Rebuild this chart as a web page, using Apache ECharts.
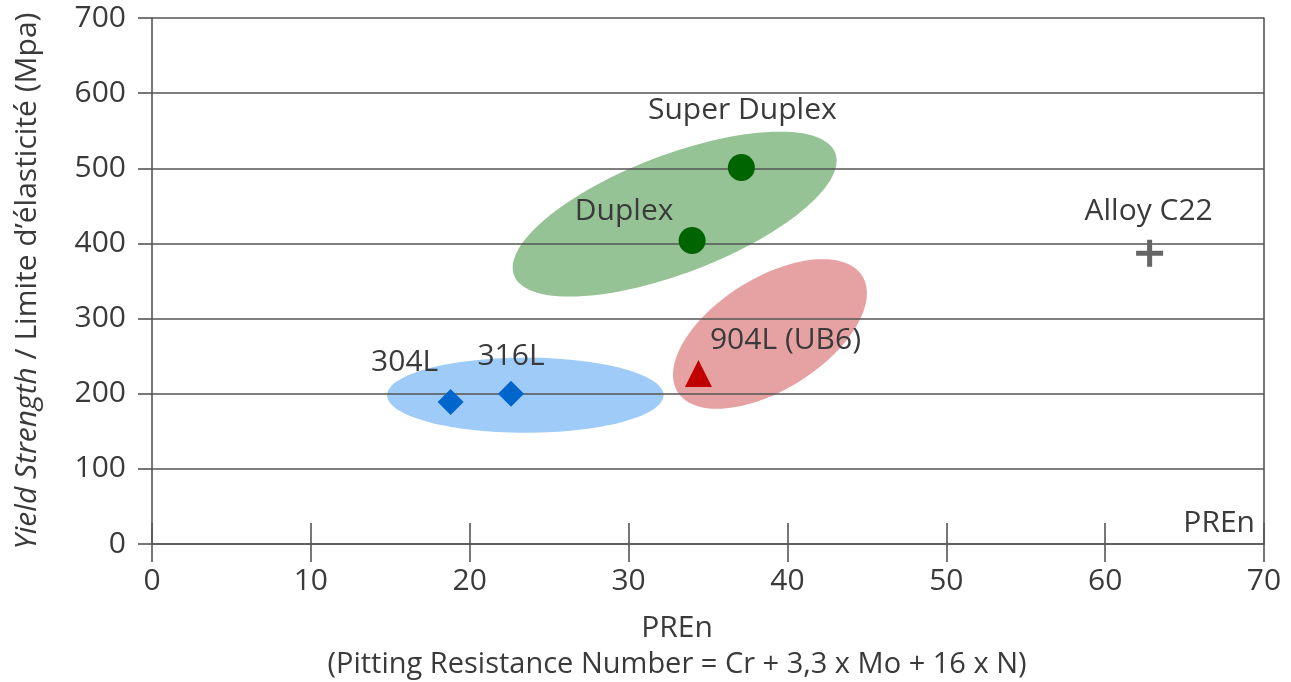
<!DOCTYPE html>
<html>
<head>
<meta charset="utf-8">
<script src="https://cdn.jsdelivr.net/npm/echarts@6/dist/echarts.min.js"></script>
<style>
html,body{margin:0;padding:0;background:#fff;}
#chart{width:1291px;height:682px;}
</style>
</head>
<body>
<div id="chart"></div>
<script>
// ---- data ----
var alloyNames = ['304L', '316L', '904L (UB6)', 'Duplex', 'Super Duplex', 'Alloy C22'];
var alloyPren  = [18.8, 22.6, 34.4, 34.0, 37.1, 62.8];
var alloyYield = [189, 200, 227, 404, 501, 387];

// ellipses: centre, end of first semi-axis, end of second semi-axis (data units)
var ellipseNames = ['Austenitic', 'Duplex family', 'Super austenitic'];
var ellipseCx = [23.5, 32.9, 38.9];
var ellipseCy = [198, 439, 279.5];
var ellipseAx = [32.2, 43.0, 44.7];
var ellipseAy = [198, 521, 357];
var ellipseBx = [23.5, 34.3, 40.8];
var ellipseBy = [248, 366, 217];

var xTicks = [0, 10, 20, 30, 40, 50, 60, 70];
var yTicks = [0, 100, 200, 300, 400, 500, 600, 700];

var xTitle1 = 'PREn';
var xTitle2 = '(Pitting Resistance Number = Cr + 3,3 x Mo + 16 x N)';
var xInnerTitle = 'PREn';

// ---- styles ----
var FONT = '"Open Sans", "DejaVu Sans", sans-serif';
var FS = 30;
var TXT = '#3a3a3a';
var LINE = '#555555';
var ellipseColors = ['#9fcbf8', '#95c395', '#e6a2a2'];
var markerStyles = [
  {symbol: 'diamond', size: 26, color: '#0066cc', offset: [-46, -40]},
  {symbol: 'diamond', size: 26, color: '#0066cc', offset: [0, -37]},
  {symbol: 'triangle', size: 27, color: '#c00000', offset: [87, -33]},
  {symbol: 'circle', size: 27, color: '#006400', offset: [-68, -29]},
  {symbol: 'circle', size: 27, color: '#006400', offset: [1, -57]},
  {symbol: 'path://M11,0H16V11H27V16H16V27H11V16H0V11H11Z', size: 27, color: '#666666', offset: [-1, -42]}
];

var ellipseData = ellipseNames.map(function (n, i) {
  return {name: n, value: [ellipseCx[i], ellipseCy[i], ellipseAx[i], ellipseAy[i], ellipseBx[i], ellipseBy[i]]};
});
var pointData = alloyNames.map(function (n, i) {
  var s = markerStyles[i];
  return {
    name: n,
    value: [alloyPren[i], alloyYield[i]],
    symbol: s.symbol,
    symbolSize: s.size,
    itemStyle: {color: s.color, opacity: 1},
    label: {offset: s.offset}
  };
});

var chart = echarts.init(document.getElementById('chart'), null, {renderer: 'canvas'});
var axisLineStyle = {color: LINE, width: 1.6};
chart.setOption({
  animation: false,
  backgroundColor: '#ffffff',
  grid: {left: 152, right: 27, top: 18, bottom: 138, containLabel: false},
  xAxis: [{
    type: 'value', min: xTicks[0], max: xTicks[xTicks.length - 1], interval: 10,
    position: 'bottom', z: 3,
    axisLine: {show: true, onZero: false, lineStyle: axisLineStyle},
    axisTick: {show: true, inside: true, length: 21, lineStyle: axisLineStyle},
    axisLabel: {show: true, margin: 22, color: TXT, fontSize: FS, fontFamily: FONT},
    splitLine: {show: false}
  }, {
    type: 'value', min: xTicks[0], max: xTicks[xTicks.length - 1], interval: 10,
    position: 'bottom', offset: 0, z: 3,
    axisLine: {show: false},
    axisTick: {show: true, inside: false, length: 18, lineStyle: axisLineStyle},
    axisLabel: {show: false},
    splitLine: {show: false}
  }],
  yAxis: [{
    type: 'value', min: yTicks[0], max: yTicks[yTicks.length - 1], interval: 100,
    position: 'left', z: 3,
    axisLine: {show: true, onZero: false, lineStyle: axisLineStyle},
    axisTick: {show: true, inside: false, length: 14, lineStyle: axisLineStyle},
    axisLabel: {show: true, margin: 26, color: TXT, fontSize: FS, fontFamily: FONT},
    splitLine: {show: true, lineStyle: axisLineStyle},
    name: '{i|Yield Strength}{n| / Limite d’élasticité (Mpa)}',
    nameLocation: 'middle',
    nameGap: 110,
    nameTextStyle: {
      color: TXT, fontSize: FS, fontFamily: FONT,
      rich: {
        i: {fontStyle: 'italic', color: TXT, fontSize: FS, fontFamily: FONT},
        n: {color: TXT, fontSize: FS, fontFamily: FONT}
      }
    }
  }, {
    type: 'value', min: yTicks[0], max: yTicks[yTicks.length - 1], interval: 100,
    position: 'right', z: 3,
    axisLine: {show: true, onZero: false, lineStyle: axisLineStyle},
    axisTick: {show: false},
    axisLabel: {show: false},
    splitLine: {show: false}
  }],
  graphic: [
    {type: 'text', z: 10, silent: true,
      style: {text: xTitle1, x: 677, y: 628, align: 'center', verticalAlign: 'middle', fill: TXT, fontSize: FS, fontFamily: FONT}},
    {type: 'text', z: 10, silent: true,
      style: {text: xTitle2, x: 677, y: 665, align: 'center', verticalAlign: 'middle', fill: TXT, fontSize: 29, fontFamily: FONT}},
    {type: 'text', z: 10, silent: true,
      style: {text: xInnerTitle, x: 1255, y: 523, align: 'right', verticalAlign: 'middle', fill: TXT, fontSize: FS, fontFamily: FONT}}
  ],
  series: [{
    type: 'custom',
    name: 'groups',
    z: 1,
    clip: false,
    encode: {x: [0, 2, 4], y: [1, 3, 5]},
    data: ellipseData,
    renderItem: function (params, api) {
      var c = api.coord([api.value(0), api.value(1)]);
      var p = api.coord([api.value(2), api.value(3)]);
      var q = api.coord([api.value(4), api.value(5)]);
      var ux = p[0] - c[0], uy = p[1] - c[1], vx = q[0] - c[0], vy = q[1] - c[1];
      var pts = [];
      for (var k = 0; k < 120; k++) {
        var t = k / 120 * Math.PI * 2;
        pts.push([c[0] + ux * Math.cos(t) + vx * Math.sin(t), c[1] + uy * Math.cos(t) + vy * Math.sin(t)]);
      }
      return {type: 'polygon', shape: {points: pts}, style: {fill: ellipseColors[params.dataIndex]}};
    }
  }, {
    type: 'scatter',
    name: 'alloys',
    z: 5,
    data: pointData,
    label: {
      show: true, position: 'inside', formatter: '{b}',
      color: TXT, fontSize: FS, fontFamily: FONT
    },
    emphasis: {disabled: true}
  }]
});
</script>
</body>
</html>
